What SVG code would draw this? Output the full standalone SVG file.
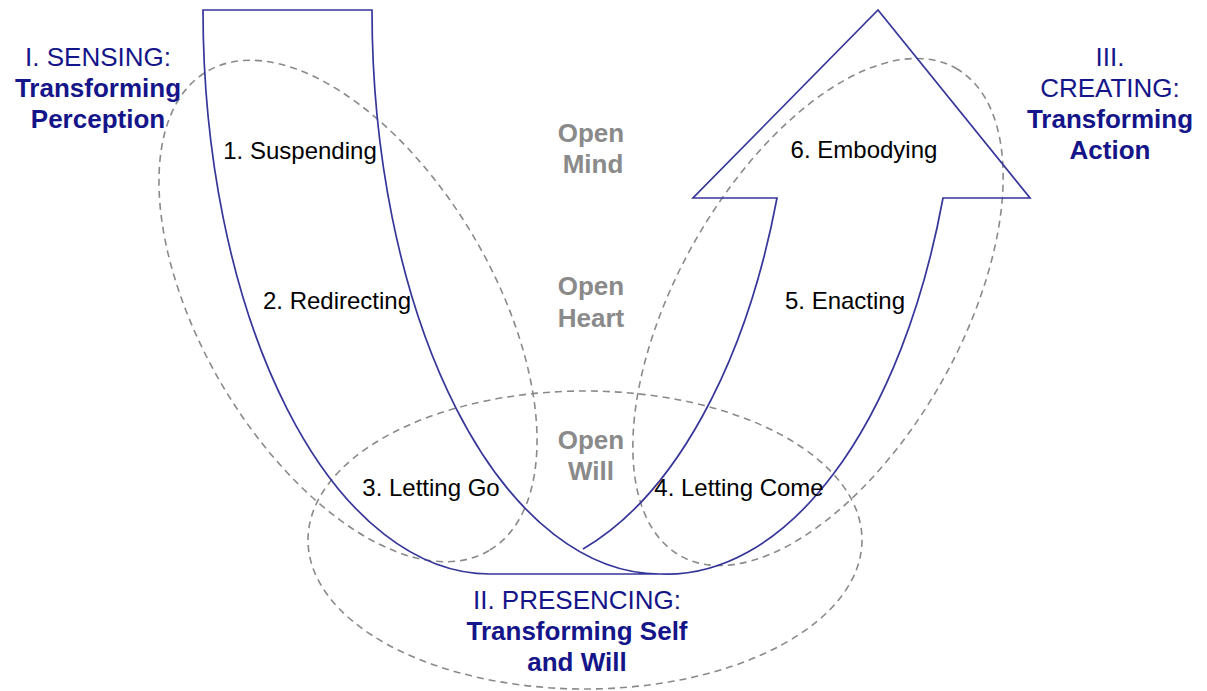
<svg xmlns="http://www.w3.org/2000/svg" width="1207" height="691" viewBox="0 0 1207 691">
<style>
.bg{fill:#ffffff}
.band{fill:none;stroke:#36369a;stroke-width:1.7;stroke-linejoin:miter}
.zone{fill:none;stroke:#8a8a8a;stroke-width:1.6;stroke-dasharray:7 5}
.step{font-family:"Liberation Sans",Arial,sans-serif;font-size:24px;fill:#000000;text-anchor:middle}
.open{font-family:"Liberation Sans",Arial,sans-serif;font-size:26px;font-weight:bold;fill:#8a8a8a;text-anchor:middle}
.ttl{font-family:"Liberation Sans",Arial,sans-serif;font-size:26px;fill:#15158a;text-anchor:middle}
.ttl .b{font-weight:bold}
</style>
<rect class="bg" x="0" y="0" width="1207" height="691"/>
<g id="zones">
  <ellipse id="zone-sensing" class="zone" cx="348" cy="311" rx="278" ry="146" transform="rotate(59.5 348 311)"/>
  <ellipse id="zone-creating" class="zone" cx="818" cy="312" rx="280" ry="142" transform="rotate(-60.5 818 312)"/>
  <ellipse id="zone-presencing" class="zone" cx="585" cy="540" rx="277" ry="149"/>
</g>
<g id="connectors">
  <path id="u-left-band" class="band" d="M203,10 L372,10 A288,564 0 0 0 660,574 L490,574 A287,564 0 0 1 203,10 Z"/>
  <path id="u-right-arrow" class="band" d="M660,574 A293,564 0 0 0 943,198 L1030,198 L878,10 L693,198 L777,198 A300,564 0 0 1 583,549"/>
</g>
<g id="node-sensing">
  <text class="ttl" x="98" y="66">I. SENSING:</text>
  <text class="ttl" x="98" y="97"><tspan class="b">Transforming</tspan></text>
  <text class="ttl" x="98" y="128"><tspan class="b">Perception</tspan></text>
</g>
<g id="node-creating">
  <text class="ttl" x="1110" y="66">III.</text>
  <text class="ttl" x="1110" y="97">CREATING:</text>
  <text class="ttl" x="1110" y="128"><tspan class="b">Transforming</tspan></text>
  <text class="ttl" x="1110" y="159"><tspan class="b">Action</tspan></text>
</g>
<g id="node-presencing">
  <text class="ttl" x="577" y="609">II. PRESENCING:</text>
  <text class="ttl" x="577" y="640"><tspan class="b">Transforming Self</tspan></text>
  <text class="ttl" x="577" y="671"><tspan class="b">and Will</tspan></text>
</g>
<g id="step-1"><text class="step" x="300" y="159">1. Suspending</text></g>
<g id="step-2"><text class="step" x="337" y="309">2. Redirecting</text></g>
<g id="step-3"><text class="step" x="431" y="496">3. Letting Go</text></g>
<g id="step-4"><text class="step" x="739" y="496">4. Letting Come</text></g>
<g id="step-5"><text class="step" x="845" y="309">5. Enacting</text></g>
<g id="step-6"><text class="step" x="864" y="158">6. Embodying</text></g>
<g id="open-mind"><text class="open" x="591" y="142">Open</text><text class="open" x="593" y="173">Mind</text></g>
<g id="open-heart"><text class="open" x="591" y="295">Open</text><text class="open" x="591" y="327">Heart</text></g>
<g id="open-will"><text class="open" x="591" y="449">Open</text><text class="open" x="591" y="480">Will</text></g>
</svg>
